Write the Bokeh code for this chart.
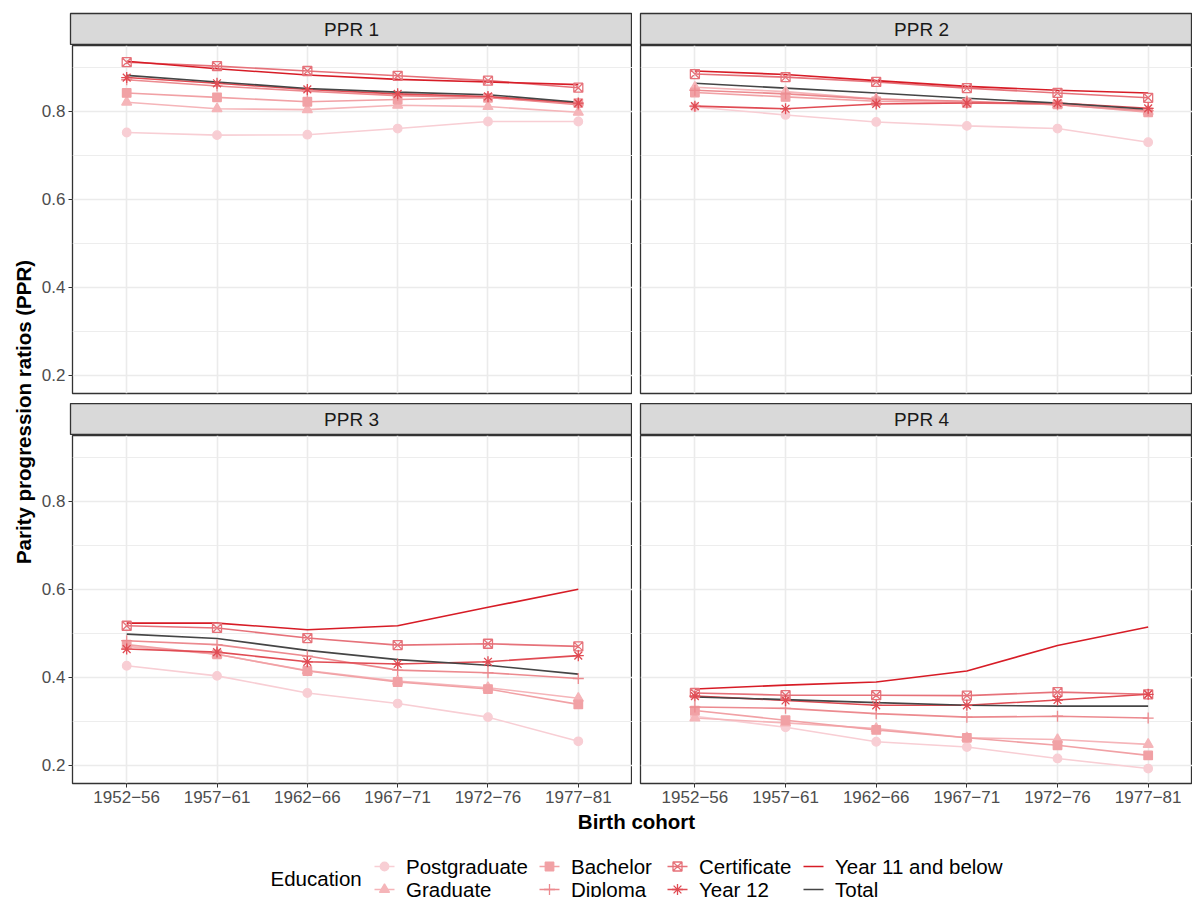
import math
from bokeh.plotting import figure
from bokeh.layouts import column, row
from bokeh.models import Range1d, FixedTicker
from bokeh.core.properties import value
from bokeh.embed import file_html
from bokeh.resources import INLINE

# ---------------- data ----------------
cohorts = ["1952\u221256", "1957\u221261", "1962\u221266", "1967\u221271", "1972\u221276", "1977\u221281"]
panels = ["PPR 1", "PPR 2", "PPR 3", "PPR 4"]
education = ["Postgraduate", "Graduate", "Bachelor", "Diploma", "Certificate",
             "Year 12", "Year 11 and below", "Total"]

# each list: [PPR 1, PPR 2, PPR 3, PPR 4] values by cohort
postgraduate = [[0.752, 0.746, 0.747, 0.761, 0.777, 0.777],
                [0.810, 0.792, 0.776, 0.767, 0.761, 0.730],
                [0.426, 0.403, 0.364, 0.340, 0.309, 0.254],
                [0.311, 0.286, 0.253, 0.241, 0.215, 0.192]]
graduate = [[0.821, 0.806, 0.804, 0.814, 0.811, 0.798],
            [0.855, 0.845, 0.828, 0.822, 0.815, 0.800],
            [0.470, 0.452, 0.415, 0.391, 0.376, 0.352],
            [0.307, 0.296, 0.283, 0.262, 0.258, 0.247]]
bachelor = [[0.842, 0.832, 0.822, 0.827, 0.831, 0.819],
            [0.843, 0.833, 0.823, 0.819, 0.816, 0.798],
            [0.474, 0.452, 0.414, 0.389, 0.373, 0.338],
            [0.324, 0.302, 0.280, 0.262, 0.245, 0.222]]
diploma = [[0.872, 0.858, 0.846, 0.836, 0.832, 0.815],
           [0.848, 0.840, 0.828, 0.823, 0.815, 0.802],
           [0.483, 0.474, 0.448, 0.416, 0.410, 0.397],
           [0.332, 0.329, 0.317, 0.309, 0.311, 0.307]]
certificate = [[0.912, 0.903, 0.892, 0.881, 0.870, 0.854],
               [0.885, 0.878, 0.867, 0.853, 0.842, 0.831],
               [0.517, 0.512, 0.489, 0.473, 0.476, 0.470],
               [0.364, 0.359, 0.359, 0.358, 0.366, 0.361]]
year12 = [[0.877, 0.864, 0.850, 0.840, 0.834, 0.819],
          [0.812, 0.806, 0.817, 0.819, 0.819, 0.807],
          [0.464, 0.457, 0.435, 0.430, 0.435, 0.449],
          [0.357, 0.347, 0.336, 0.336, 0.348, 0.361]]
year11 = [[0.914, 0.897, 0.883, 0.873, 0.867, 0.861],
          [0.892, 0.884, 0.870, 0.857, 0.848, 0.842],
          [0.523, 0.523, 0.508, 0.517, 0.559, 0.600],
          [0.373, 0.382, 0.389, 0.414, 0.472, 0.514]]
total = [[0.882, 0.867, 0.852, 0.844, 0.838, 0.821],
         [0.864, 0.853, 0.842, 0.830, 0.819, 0.805],
         [0.498, 0.488, 0.461, 0.440, 0.427, 0.407],
         [0.355, 0.349, 0.342, 0.336, 0.334, 0.334]]

series = [postgraduate, graduate, bachelor, diploma, certificate, year12, year11, total]
y_ticks = [0.2, 0.4, 0.6, 0.8]
y_minor = [0.3, 0.5, 0.7, 0.9]

# ---------------- styles ----------------
colors = ["#f8ced4", "#f5b5b9", "#f1a1a5", "#ec8a8f", "#e6727a", "#e04b53", "#d71c26", "#454545"]
markers = ["circle", "triangle", "square", "cross", "square_x", "asterisk", None, None]
msizes = [8.5, 10, 8.5, 11, 9, 11, 0, 0]
filled = [True, True, True, False, False, False, False, False]

FONT = "Liberation Sans"
GRID = "#ebebeb"
x_pos = list(range(1, len(cohorts) + 1))
Y0, Y1 = 0.158, 0.950
X0 = 0.4
X_END_FULL = 6.6
X_END_RIGHT = 6.489   # right panel is cropped by the image edge


def style_grid(p):
    p.xgrid.ticker = FixedTicker(ticks=x_pos)
    p.ygrid.ticker = FixedTicker(ticks=y_ticks, minor_ticks=y_minor)
    p.xgrid.grid_line_color = GRID
    p.ygrid.grid_line_color = GRID
    p.xgrid.grid_line_width = 1.6
    p.ygrid.grid_line_width = 1.6
    p.ygrid.minor_grid_line_color = GRID
    p.ygrid.minor_grid_line_width = 0.9


def make_panel(idx, width, height, left, bottom, show_x, show_y, x_end):
    p = figure(width=width, height=height,
               x_range=Range1d(X0, x_end), y_range=Range1d(Y0, Y1),
               output_backend="svg", toolbar_location=None,
               x_axis_location="below" if show_x else None,
               y_axis_location="left" if show_y else None,
               min_border_left=left, min_border_right=0,
               min_border_top=0, min_border_bottom=bottom)
    p.outline_line_color = "#333333"
    p.outline_line_width = 1.3
    p.background_fill_color = "white"
    p.border_fill_color = "white"
    style_grid(p)
    if show_x:
        ax = p.xaxis[0]
        ax.ticker = FixedTicker(ticks=x_pos)
        ax.major_label_overrides = {x: lab for x, lab in zip(x_pos, cohorts)}
        ax.axis_line_color = None
        ax.major_tick_line_color = "#333333"
        ax.major_tick_out = 4
        ax.major_tick_in = 0
        ax.minor_tick_line_color = None
        ax.major_label_standoff = 3
        ax.major_label_text_font = FONT
        ax.major_label_text_font_size = "17px"
        ax.major_label_text_color = "#4d4d4d"
    if show_y:
        ay = p.yaxis[0]
        ay.ticker = FixedTicker(ticks=y_ticks)
        ay.axis_line_color = None
        ay.major_tick_line_color = "#333333"
        ay.major_tick_out = 4
        ay.major_tick_in = 0
        ay.minor_tick_line_color = None
        ay.major_label_standoff = 3
        ay.major_label_text_font = FONT
        ay.major_label_text_font_size = "17px"
        ay.major_label_text_color = "#4d4d4d"
    for j in range(len(education)):
        vals = series[j][idx]
        p.line(x_pos, vals, line_color=colors[j], line_width=1.6)
    for j in range(len(education)):
        if markers[j] is None:
            continue
        vals = series[j][idx]
        p.scatter(x_pos, vals, marker=markers[j], size=msizes[j],
                  fill_color=colors[j] if filled[j] else None,
                  line_color=colors[j], line_width=1.3)
    return p


def make_strip(label, width, height, left, top, x_end):
    s = figure(width=width, height=height, x_range=Range1d(X0, x_end), y_range=Range1d(0, 1),
               output_backend="svg", toolbar_location=None,
               x_axis_location=None, y_axis_location=None,
               min_border_left=left, min_border_right=0, min_border_top=top, min_border_bottom=0)
    s.grid.visible = False
    s.background_fill_color = "#d9d9d9"
    s.border_fill_color = "white"
    s.outline_line_color = "#333333"
    s.outline_line_width = 1.3
    s.text(x=[(X0 + X_END_FULL) / 2], y=[0.5], text=[label], text_align="center",
           text_baseline="middle", text_font=value(FONT), text_font_size="19px",
           text_color="#1a1a1a")
    return s


LW, RW = 594, 560
LB, RB = 32, 8

s1 = make_strip(panels[0], LW, 45, LB, 13, X_END_FULL)
s2 = make_strip(panels[1], RW, 45, RB, 13, X_END_RIGHT)
p1 = make_panel(0, LW, 358, LB, 10, False, True, X_END_FULL)
p2 = make_panel(1, RW, 358, RB, 10, False, False, X_END_RIGHT)
s3 = make_strip(panels[2], LW, 32, LB, 0, X_END_FULL)
s4 = make_strip(panels[3], RW, 32, RB, 0, X_END_RIGHT)
p3 = make_panel(2, LW, 374, LB, 26, True, True, X_END_FULL)
p4 = make_panel(3, RW, 374, RB, 26, True, False, X_END_RIGHT)


def blank(width, height, xr, yr):
    f = figure(width=width, height=height, x_range=Range1d(*xr), y_range=Range1d(*yr),
               output_backend="svg", toolbar_location=None,
               x_axis_location=None, y_axis_location=None, min_border=0)
    f.grid.visible = False
    f.outline_line_color = None
    f.background_fill_color = "white"
    f.border_fill_color = "white"
    return f

# y axis title (coordinates in page pixels)
yt = blank(38, 809, (0, 38), (809, 0))
yt.text(x=[22.5], y=[411.5], text=["Parity progression ratios (PPR)"], angle=math.pi / 2,
        text_align="center", text_baseline="middle", text_font=value(FONT),
        text_font_style="bold", text_font_size="20.5px", text_color="black")

# x axis title
xt = blank(1192, 27, (0, 1192), (836, 809))
xt.text(x=[636], y=[821], text=["Birth cohort"], text_align="center", text_baseline="middle",
        text_font=value(FONT), text_font_style="bold", text_font_size="20.5px",
        text_color="black")

# legend
lg = blank(1192, 61, (0, 1192), (897, 836))
lg.text(x=[270], y=[878], text=["Education"], text_align="left", text_baseline="middle",
        text_font=value(FONT), text_font_size="20.5px", text_color="black")
key_cols = [384, 549, 677, 813]
key_rows = [866, 889]
for j, name in enumerate(education):
    kx = key_cols[j // 2]
    ky = key_rows[j % 2]
    lg.segment(x0=[kx - 10], x1=[kx + 10], y0=[ky], y1=[ky], line_color=colors[j], line_width=1.6)
    if markers[j] is not None:
        lg.scatter([kx], [ky], marker=markers[j], size=msizes[j],
                   fill_color=colors[j] if filled[j] else None,
                   line_color=colors[j], line_width=1.3)
    lg.text(x=[kx + 21.5], y=[ky], text=[name], text_align="left", text_baseline="middle",
            text_font=value(FONT), text_font_size="20.5px", text_color="black")

grid_col = column(row(s1, s2), row(p1, p2), row(s3, s4), row(p3, p4), spacing=0)
layout = column(row(yt, grid_col, spacing=0), xt, lg, spacing=0)

open("out.html", "w").write(file_html(layout, INLINE))
